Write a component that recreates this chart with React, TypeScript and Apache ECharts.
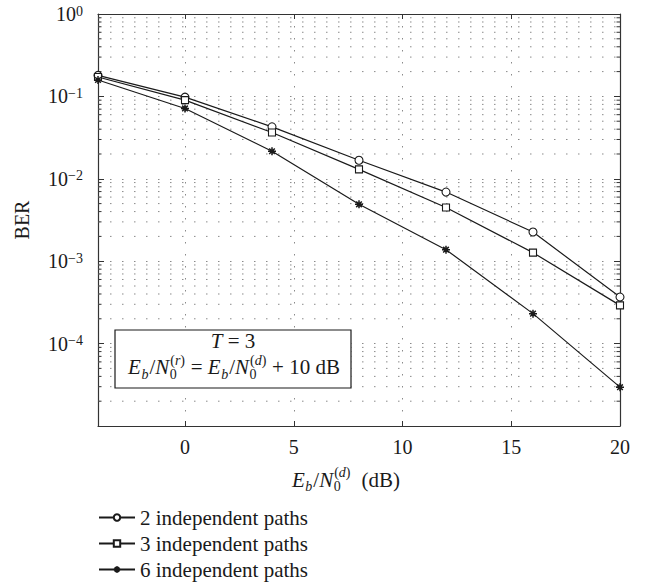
import React, { useEffect, useRef } from 'react';
import * as echarts from 'echarts';

// ---------- data ----------
const snrDb = [-4, 0, 4, 8, 12, 16, 20];
const ber2Paths = [0.18, 0.098, 0.0427, 0.0168, 0.0069, 0.00226, 0.000367];
const ber3Paths = [0.172, 0.09, 0.0365, 0.013, 0.00448, 0.00127, 0.000291];
const ber6Paths = [0.158, 0.0714, 0.0216, 0.0049, 0.00138, 0.000231, 0.0000296];
const seriesNames = ['2 independent paths', '3 independent paths', '6 independent paths'];
const yDecades = [-5, -4, -3, -2, -1];
const minorMultipliers = [2, 3, 4, 5, 6, 7, 8, 9];
const X_MIN = -4;
const X_MAX = 20;
const Y_MIN = 1e-5;
const Y_MAX = 1;

const FONT = '"Liberation Serif", "Times New Roman", serif';
const INK = '#1a1a1a';
const GRID_GRAY = '#8a8a8a';
const DOTS = [1.5, 10.5];

// ---------- math text helper ----------
let measureCtx: CanvasRenderingContext2D | null = null;
function measure(text: string, size: number, italic: boolean): number {
  if (!measureCtx) measureCtx = document.createElement('canvas').getContext('2d');
  if (!measureCtx) return text.length * size * 0.5;
  measureCtx.font = `${italic ? 'italic ' : ''}${size}px ${FONT}`;
  return measureCtx.measureText(text).width;
}

type Run = { t: string; it?: boolean };
type Tok = { t?: string; it?: boolean; sub?: Run[]; sup?: Run[] };

function mathText(toks: Tok[], x0: number, base: number, size: number, anchor: 'left' | 'center') {
  const ss = Math.round(size * 0.68);
  const items: { text: string; x: number; y: number; size: number; it: boolean }[] = [];
  let x = 0;
  const placeRuns = (runs: Run[], startX: number, baseY: number, sz: number) => {
    let cx = startX;
    for (const r of runs) {
      items.push({ text: r.t, x: cx, y: baseY - 0.34 * sz, size: sz, it: !!r.it });
      cx += measure(r.t, sz, !!r.it);
    }
    return cx - startX;
  };
  for (const tk of toks) {
    if (tk.t !== undefined) {
      x += placeRuns([{ t: tk.t, it: tk.it }], x, base, size);
    } else {
      let w = 0;
      if (tk.sub) w = Math.max(w, placeRuns(tk.sub, x + 0.5, base + 0.22 * size, ss));
      if (tk.sup) w = Math.max(w, placeRuns(tk.sup, x + 1, base - 0.46 * size, ss));
      x += w + 1.5;
    }
  }
  const off = anchor === 'center' ? x0 - x / 2 : x0;
  return items.map((it) => ({
    type: 'text',
    x: off + it.x,
    y: it.y,
    silent: true,
    z: 20,
    style: {
      text: it.text,
      fontSize: it.size,
      fontFamily: FONT,
      fontStyle: it.it ? 'italic' : 'normal',
      fill: INK,
      align: 'left',
      verticalAlign: 'middle',
    },
  }));
}

const ratioTok = (sup: string): Tok[] => [
  { t: 'E', it: true },
  { sub: [{ t: 'b', it: true }] },
  { t: '/' },
  { t: 'N', it: true },
  { sub: [{ t: '0' }], sup: [{ t: '(' }, { t: sup, it: true }, { t: ')' }] },
];

export default function App() {
  const ref = useRef<HTMLDivElement>(null);

  useEffect(() => {
    if (!ref.current) return;
    const chart = echarts.init(ref.current, undefined, { renderer: 'svg' });

    const minorValues: number[][] = [];
    yDecades.forEach((d) => minorMultipliers.forEach((m) => minorValues.push([X_MIN, m * Math.pow(10, d)])));

    const mkLine = (name: string, vals: number[], symbol: string, size: number, fill: string, bw: number) => ({
      type: 'line',
      name,
      data: snrDb.map((x, i) => [x, vals[i]]),
      symbol,
      symbolSize: size,
      showSymbol: true,
      clip: false,
      z: 5,
      lineStyle: { color: INK, width: 1.2 },
      itemStyle: { color: fill, borderColor: INK, borderWidth: bw },
      emphasis: { disabled: true },
    });

    const star = 'path://M0,-1L0,1M-1,0L1,0M-0.7,-0.7L0.7,0.7M-0.7,0.7L0.7,-0.7';

    const axisLineStyle = { color: '#333', width: 1.2 };
    const axisFont = { fontSize: 20, fontFamily: FONT, color: INK };

    const graphics: any[] = [
      {
        type: 'rect',
        z: 19,
        silent: true,
        shape: { x: 115, y: 330, width: 236, height: 58 },
        style: { fill: '#fff', stroke: INK, lineWidth: 1.2 },
      },
      ...mathText([{ t: 'T', it: true }, { t: ' = 3' }], 233, 348.5, 21, 'center'),
      ...mathText(
        [...ratioTok('r'), { t: ' = ' }, ...ratioTok('d'), { t: ' + 10 dB' }],
        234,
        374.5,
        21,
        'center'
      ),
      ...mathText([...ratioTok('d'), { t: '  (dB)' }], 292, 487, 21, 'left'),
    ];

    chart.setOption({
      animation: false,
      backgroundColor: '#fff',
      grid: { left: 98, right: 34, top: 14, bottom: 157, containLabel: false },
      xAxis: [
        {
          type: 'value',
          min: X_MIN,
          max: X_MAX,
          axisLine: { show: true, onZero: false, lineStyle: axisLineStyle },
          axisTick: { show: true, inside: true, length: 5, lineStyle: { color: '#333' } },
          axisLabel: {
            ...axisFont,
            margin: 11,
            formatter: (v: number) => (v <= X_MIN + 1e-9 ? '' : String(v)),
          },
          splitLine: { show: true, lineStyle: { color: GRID_GRAY, type: DOTS, width: 1 } },
        },
        {
          type: 'value',
          position: 'top',
          min: X_MIN,
          max: X_MAX,
          axisLine: { show: true, onZero: false, lineStyle: axisLineStyle },
          axisTick: { show: true, inside: true, length: 5, lineStyle: { color: '#333' } },
          axisLabel: { show: false },
          splitLine: { show: false },
        },
      ],
      yAxis: [
        {
          type: 'log',
          logBase: 10,
          min: Y_MIN,
          max: Y_MAX,
          name: 'BER',
          nameLocation: 'middle',
          nameGap: 66,
          nameRotate: 90,
          nameTextStyle: { fontSize: 20, fontFamily: FONT, color: INK },
          axisLine: { show: true, onZero: false, lineStyle: axisLineStyle },
          axisTick: { show: true, inside: true, length: 6, lineStyle: { color: '#333' } },
          axisLabel: {
            margin: 15,
            formatter: (v: number) => {
              const e = Math.round(Math.log10(v));
              if (e <= -5) return '';
              return `{b|10}{s|${e < 0 ? '\u2212' + -e : e}}`;
            },
            rich: {
              b: { fontSize: 20, fontFamily: FONT, lineHeight: 20, color: INK },
              s: {
                fontSize: 14,
                fontFamily: FONT,
                lineHeight: 14,
                padding: [0, 0, 12, 0],
                verticalAlign: 'top',
                color: INK,
              },
            },
          },
          splitLine: { show: true, lineStyle: { color: GRID_GRAY, type: DOTS, width: 1 } },
        },
        {
          type: 'log',
          logBase: 10,
          min: Y_MIN,
          max: Y_MAX,
          position: 'right',
          axisLine: { show: true, onZero: false, lineStyle: axisLineStyle },
          axisTick: { show: true, inside: true, length: 6, lineStyle: { color: '#333' } },
          axisLabel: { show: false },
          splitLine: { show: false },
        },
      ],
      legend: {
        orient: 'vertical',
        left: 98,
        top: 507,
        padding: 0,
        itemWidth: 36,
        itemHeight: 8,
        itemGap: 5,
        selectedMode: false,
        data: seriesNames,
        textStyle: { fontSize: 21, fontFamily: FONT, color: INK, lineHeight: 21 },
      },
      series: [
        {
          type: 'custom',
          name: 'minor-grid',
          z: 1,
          silent: true,
          clip: false,
          encode: { x: 0, y: 1 },
          data: minorValues,
          renderItem: (params: any, api: any) => {
            const cs = params.coordSys;
            const y = api.coord([api.value(0), api.value(1)])[1];
            const left = cs.x;
            const right = cs.x + cs.width;
            return {
              type: 'group',
              children: [
                {
                  type: 'line',
                  shape: { x1: left, y1: y, x2: right, y2: y },
                  style: { stroke: GRID_GRAY, lineWidth: 1, lineDash: DOTS },
                },
                {
                  type: 'line',
                  shape: { x1: left, y1: y, x2: left + 3.5, y2: y },
                  style: { stroke: '#333', lineWidth: 1 },
                },
                {
                  type: 'line',
                  shape: { x1: right - 3.5, y1: y, x2: right, y2: y },
                  style: { stroke: '#333', lineWidth: 1 },
                },
              ],
            };
          },
        },
        mkLine(seriesNames[0], ber2Paths, 'circle', 8, '#fff', 1.1),
        mkLine(seriesNames[1], ber3Paths, 'rect', 7, '#fff', 1.1),
        mkLine(seriesNames[2], ber6Paths, star, 8, INK, 1.5),
      ],
      graphic: graphics,
    });

    return () => chart.dispose();
  }, []);

  return (
    <div
      ref={ref}
      style={{ position: 'absolute', left: 0, top: 0, width: 654, height: 583, background: '#fff' }}
    />
  );
}
